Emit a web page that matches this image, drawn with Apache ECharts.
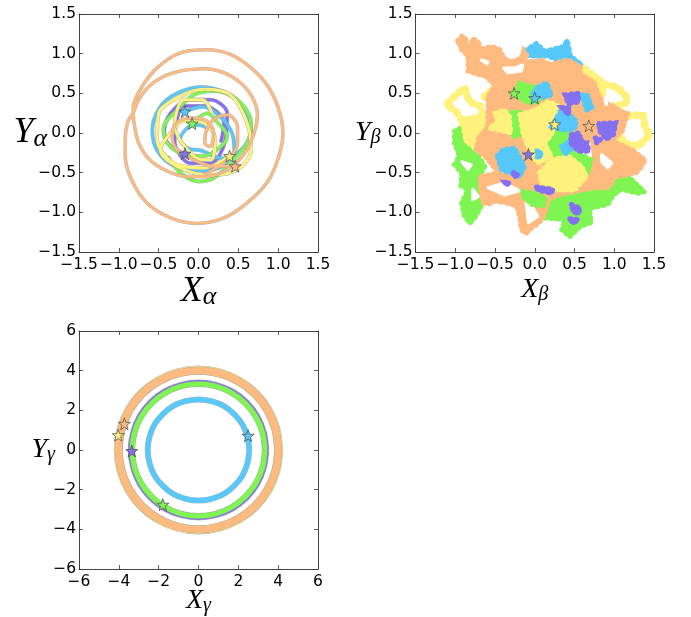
<!DOCTYPE html>
<html><head><meta charset="utf-8">
<style>html,body{margin:0;padding:0;background:#fff}#c{width:691px;height:617px}</style>
<script src="https://cdn.jsdelivr.net/npm/echarts@6/dist/echarts.min.js"></script>
</head><body><div id="c"></div>
<script>
const ORANGE='#ffba80',YELLOW='#fff27c',GREEN='#7ff552',BLUE='#56c8fa',PURPLE='#8570f2';

/* ---------- panel alpha : orbit traces ---------- */
const alphaPurple=[[-0.17,-0.26],[-0.35,-0.17],[-0.43,0],[-0.35,0.25],[-0.1,0.42],[0.15,0.42],[0.36,0.25],[0.34,-0.08],[0.15,-0.38],[-0.1,-0.38],[-0.3,-0.1],[-0.18,0.34],[0.07,0.34],[0.32,0.13],[0.28,-0.12]];
const alphaBlue=[[-0.17,0.27],[0.05,0.33],[0.28,0.2],[0.42,0.0],[0.45,-0.22],[0.3,-0.42],[0,-0.48],[-0.3,-0.42],[-0.52,-0.22],[-0.58,0.04],[-0.48,0.33],[-0.27,0.5],[0.03,0.58],[0.36,0.5],[0.58,0.3],[0.66,0.04],[0.55,-0.2],[0.3,-0.32],[0.03,-0.22],[-0.12,-0.2],[-0.23,-0.08],[-0.1,0.09],[0,0.1],[0.12,0.06]];
const alphaGreen=[[-0.08,0.12],[0.11,0.25],[0.24,0.13],[0.36,-0.04],[0.28,-0.17],[0.07,-0.29],[-0.18,-0.27],[-0.39,-0.13],[-0.44,0.06],[-0.27,0.29],[-0.06,0.48],[0.19,0.53],[0.49,0.42],[0.66,0.13],[0.61,-0.13],[0.36,-0.42],[0.19,-0.57],[0,-0.61],[-0.23,-0.5],[-0.39,-0.29]];
const alphaYellow=[[0.39,-0.29],[0.07,-0.44],[-0.31,-0.38],[-0.52,-0.08],[-0.5,0.25],[-0.23,0.46],[0.07,0.55],[0.4,0.48],[0.61,0.13],[0.66,-0.21],[0.49,-0.46],[0.15,-0.53],[-0.23,-0.44],[-0.48,-0.21],[-0.35,0],[-0.18,0.15],[0.05,0.13],[0.21,-0.08],[0.15,-0.34],[-0.05,-0.3],[-0.3,0.1],[-0.18,0.42],[0.05,0.42],[0.17,0.25]];
const alphaOrangeOuter=[[-0.82,0.25],[-0.89,0.13],[-0.92,-0.08],[-0.92,-0.29],[-0.84,-0.59],[-0.65,-0.88],[-0.35,-1.07],[-0.02,-1.14],[0.32,-1.07],[0.61,-0.88],[0.87,-0.61],[1.01,-0.29],[1.06,0],[1.01,0.29],[0.87,0.59],[0.66,0.82],[0.40,0.99],[0.11,1.05],[-0.23,1.01],[-0.52,0.82],[-0.73,0.55],[-0.82,0.32],[-0.81,0.13],[-0.75,-0.13],[-0.61,-0.34],[-0.39,-0.48],[-0.14,-0.55],[0.11,-0.55],[0.36,-0.46],[0.57,-0.27],[0.70,0],[0.74,0.23],[0.68,0.44],[0.53,0.63],[0.32,0.76],[0.07,0.81],[-0.18,0.79],[-0.44,0.71],[-0.63,0.58],[-0.75,0.42],[-0.82,0.25]];
const alphaOrangeInner=[[0.46,-0.42],[0.19,-0.42],[-0.06,-0.34],[-0.27,-0.21],[-0.33,-0.04],[-0.27,0.13],[-0.08,0.19],[0.11,0.15],[0.19,0],[0.15,-0.17],[0.08,-0.13],[0.09,0],[0.19,0.17],[0.36,0.23],[0.49,0.08],[0.49,-0.13],[0.36,-0.34],[0.07,-0.53]];
const alphaStars={purple:[-0.17,-0.26],blue:[-0.17,0.27],green:[-0.08,0.12],yellow:[0.39,-0.29],orange:[0.46,-0.42]};

/* ---------- panel beta : regions covered by each walk ---------- */
const betaYellowUnder=[
 [[-0.92,0.17],[-0.63,0.23],[-0.57,0],[-0.71,-0.19],[-0.92,-0.11]],
 [[0.59,0.86],[0.84,0.67],[0.88,0.48],[0.84,0.42],[0.71,0.55],[0.59,0.69]]];
const betaYellowTrails=[
 [[-0.92,0.17],[-0.99,0.27],[-1.11,0.36],[-1.01,0.46],[-0.88,0.57],[-0.83,0.40],[-0.69,0.34],[-0.65,0.23]],
 [[-0.63,0.46],[-0.55,0.53]],
 [[0.88,0.61],[1.03,0.58],[1.17,0.44],[1.13,0.36],[0.99,0.34]],
 [[1.09,0.17],[1.13,0.21],[1.36,0.23],[1.39,0.06],[1.45,-0.02],[1.30,-0.17],[1.13,-0.13],[1.05,0]]];
const betaGreenUnder=[
 [[-1.01,0.02],[-0.95,0.06],[-0.92,-0.13],[-0.71,-0.29],[-0.63,-0.42],[-0.69,-0.55],[-0.65,-0.88],[-0.74,-1.05],[-0.82,-1.14],[-0.89,-1.03],[-0.92,-0.88],[-0.84,-0.71],[-0.93,-0.67],[-0.92,-0.5],[-1.01,-0.40],[-0.95,-0.29],[-1.01,-0.13]],
 [[-0.13,-0.71],[0.11,-0.80],[0.34,-0.74],[0.71,-0.71],[0.97,-0.55],[1.18,-0.55],[1.38,-0.74],[1.30,-0.76],[1.09,-0.71],[0.99,-0.78],[0.92,-0.90],[0.69,-0.95],[0.71,-1.13],[0.57,-1.18],[0.44,-1.31],[0.34,-1.22],[0.38,-1.09],[0.11,-1.07],[0.15,-0.92],[0.08,-0.90],[-0.13,-0.80]]];
const betaBlueUnder=[
 [[-0.12,1.04],[0.02,1.13],[0.13,1.03],[0.36,1.09],[0.41,1.17],[0.45,0.97],[0.59,0.86],[0.46,0.84],[0.17,0.97],[-0.08,0.97]]];
const betaOrange=[
 [[-0.97,1.16],[-0.92,1.22],[-0.87,1.20],[-0.85,1.09],[-0.81,1.05],[-0.79,1.18],[-0.74,1.18],[-0.69,1.11],[-0.71,1.05],[-0.63,1.07],[-0.53,1.09],[-0.44,1.05],[-0.39,0.95],[-0.32,0.90],[-0.23,0.92],[-0.17,0.95],[-0.14,1.04],[-0.10,0.99],[-0.12,0.90],[-0.02,0.90],[0.08,0.92],[0.21,0.86],[0.32,0.90],[0.42,0.92],[0.57,0.84],[0.58,0.74],[0.66,0.69],[0.74,0.65],[0.78,0.55],[0.82,0.44],[0.90,0.38],[0.99,0.34],[1.09,0.27],[1.17,0.25],[1.13,0.13],[1.10,0.02],[1.03,-0.04],[0.99,-0.11],[1.09,-0.15],[1.22,-0.21],[1.30,-0.27],[1.39,-0.34],[1.35,-0.42],[1.28,-0.50],[1.16,-0.53],[1.01,-0.55],[0.97,-0.63],[0.92,-0.69],[0.78,-0.69],[0.63,-0.71],[0.50,-0.74],[0.38,-0.76],[0.25,-0.80],[0.17,-0.84],[0.15,-0.92],[0.13,-1.01],[0.06,-1.13],[-0.02,-1.18],[-0.11,-1.27],[-0.17,-1.22],[-0.19,-1.05],[-0.23,-0.92],[-0.36,-0.88],[-0.50,-0.86],[-0.59,-0.90],[-0.65,-0.88],[-0.68,-0.71],[-0.69,-0.55],[-0.59,-0.53],[-0.46,-0.50],[-0.63,-0.29],[-0.74,-0.21],[-0.70,-0.05],[-0.59,0.08],[-0.59,0.46],[-0.50,0.59],[-0.61,0.71],[-0.72,0.74],[-0.84,0.78],[-0.84,0.97],[-0.92,1.05]]];
const betaGaps=[
 [[-0.39,0.82],[-0.25,0.82],[-0.15,0.86],[-0.17,0.78],[-0.34,0.76]],
 [[-0.67,0.92],[-0.59,0.90],[-0.60,0.87]],
 [[0.62,-0.13],[0.68,-0.13],[0.70,-0.29],[0.63,-0.30]],
 [[0.84,-0.27],[0.97,-0.38],[0.92,-0.44],[0.84,-0.36]],
 [[-0.59,-0.69],[-0.38,-0.63],[-0.19,-0.73],[-0.38,-0.78]],
 [[-0.11,-0.88],[-0.04,-0.92],[0.04,-1.05],[-0.08,-1.13]],
 [[-0.92,-0.36],[-0.80,-0.40],[-0.84,-0.46]],
 [[-0.78,-0.71],[-0.71,-0.80],[-0.78,-0.84]],
 [[0.88,0.42],[0.93,0.50],[0.90,0.36]]];
const betaGreenOver=[
 [[-0.19,0.63],[-0.08,0.59],[0.04,0.58],[0.06,0.40],[-0.08,0.38],[-0.19,0.44],[-0.23,0.55]],
 [[-0.33,0.25],[-0.19,0.27],[-0.13,0],[-0.27,-0.05],[-0.32,0.08]],
 [[0.19,0],[0.34,0.04],[0.46,0.06],[0.42,-0.17],[0.55,-0.25],[0.71,-0.34],[0.67,-0.48],[0.55,-0.38],[0.34,-0.29],[0.21,-0.27],[0.13,-0.11]],
 [[-0.15,-0.74],[0,-0.76],[0.13,-0.82],[0.11,-0.92],[-0.04,-0.90],[-0.15,-0.80]]];
const betaYellowOver=[
 [[-0.19,0.23],[0,0.29],[0.17,0.40],[0.32,0.33],[0.29,0.17],[0.21,-0.02],[0.12,-0.13],[0.21,-0.29],[0.04,-0.38],[-0.08,-0.19],[-0.15,0],[-0.17,0.13]],
 [[0.06,-0.50],[0.21,-0.34],[0.42,-0.29],[0.59,-0.42],[0.65,-0.55],[0.50,-0.72],[0.25,-0.72],[0.08,-0.62]],
 [[-0.50,0.25],[-0.38,0.29],[-0.32,0.21],[-0.30,0],[-0.42,0.03],[-0.57,0.06],[-0.46,0.15]]];
const betaBlueOver=[
 [[0.04,0.58],[0.15,0.63],[0.21,0.48],[0.08,0.44],[-0.02,0.50]],
 [[0.32,0.27],[0.44,0.23],[0.57,0.11],[0.46,0.04],[0.34,0.04],[0.21,0.08]],
 [[0.34,-0.17],[0.46,-0.08],[0.50,-0.17],[0.38,-0.27]],
 [[-0.47,-0.29],[-0.40,-0.21],[-0.25,-0.19],[-0.13,-0.42],[-0.19,-0.55],[-0.42,-0.46]],
 [[0.59,0.48],[0.66,0.48],[0.72,0.32],[0.65,0.29]],
 [[0.03,-0.23],[0.08,-0.24],[0.07,-0.31],[0.03,-0.30]]];
const betaPurple=[
 [[0.38,0.48],[0.55,0.50],[0.55,0.39],[0.42,0.37]],
 [[0.79,0.12],[1.02,0.13],[0.99,-0.02],[0.90,-0.08],[0.82,0.02]],
 [[0.46,-0.02],[0.63,0.02],[0.68,-0.23],[0.55,-0.23],[0.45,-0.13]],
 [[0.46,-0.90],[0.57,-0.95],[0.55,-1.02],[0.48,-0.99]],
 [[0.44,-1.08],[0.55,-1.09],[0.48,-1.14]],
 [[0.02,-0.68],[0.23,-0.71],[0.21,-0.76],[0.04,-0.72]],
 [[0.34,0.32],[0.44,0.32],[0.42,0.23]],
 [[0.76,-0.06],[0.83,-0.08],[0.78,-0.13]],
 [[-0.27,-0.50],[-0.21,-0.52],[-0.25,-0.56]],
 [[-0.38,-0.62],[-0.32,-0.62],[-0.35,-0.66]]];
const betaOrangeOver=[
 [[0.57,0.23],[0.76,0.19],[0.74,0],[0.65,-0.08],[0.57,0.08]]];
const betaStars={purple:[-0.08,-0.27],blue:[0,0.44],green:[-0.26,0.50],yellow:[0.25,0.11],orange:[0.68,0.09]};

/* ---------- panel gamma : rings ---------- */
const gammaBlue=[[2.55,0],[2.46,.66],[2.21,1.28],[1.80,1.80],[1.28,2.21],[.66,2.46],[0,2.55],[-.66,2.46],[-1.28,2.21],[-1.80,1.80],[-2.21,1.28],[-2.46,.66],[-2.55,0],[-2.46,-.66],[-2.21,-1.28],[-1.80,-1.80],[-1.28,-2.21],[-.66,-2.46],[0,-2.55],[.66,-2.46],[1.28,-2.21],[1.80,-1.80],[2.21,-1.28],[2.46,-.66],[2.55,0]];
const gammaPurple=[[3.38,0],[3.26,.87],[2.93,1.69],[2.39,2.39],[1.69,2.93],[.87,3.26],[0,3.38],[-.87,3.26],[-1.69,2.93],[-2.39,2.39],[-2.93,1.69],[-3.26,.87],[-3.38,0],[-3.26,-.87],[-2.93,-1.69],[-2.39,-2.39],[-1.69,-2.93],[-.87,-3.26],[0,-3.38],[.87,-3.26],[1.69,-2.93],[2.39,-2.39],[2.93,-1.69],[3.26,-.87],[3.38,0]];
const gammaGreen=[[3.33,0],[3.22,.86],[2.88,1.67],[2.35,2.35],[1.67,2.88],[.86,3.22],[0,3.33],[-.86,3.22],[-1.67,2.88],[-2.35,2.35],[-2.88,1.67],[-3.22,.86],[-3.33,0],[-3.22,-.86],[-2.88,-1.67],[-2.35,-2.35],[-1.67,-2.88],[-.86,-3.22],[0,-3.33],[.86,-3.22],[1.67,-2.88],[2.35,-2.35],[2.88,-1.67],[3.22,-.86],[3.33,0]];
const gammaYellow=[[4.03,0],[3.89,1.04],[3.49,2.02],[2.85,2.85],[2.02,3.49],[1.04,3.89],[0,4.03],[-1.04,3.89],[-2.02,3.49],[-2.85,2.85],[-3.49,2.02],[-3.89,1.04],[-4.03,0],[-3.89,-1.04],[-3.49,-2.02],[-2.85,-2.85],[-2.02,-3.49],[-1.04,-3.89],[0,-4.03],[1.04,-3.89],[2.02,-3.49],[2.85,-2.85],[3.49,-2.02],[3.89,-1.04],[4.03,0]];
const gammaOrange=[[4.01,0],[3.87,1.04],[3.47,2.01],[2.84,2.84],[2.01,3.47],[1.04,3.87],[0,4.01],[-1.04,3.87],[-2.01,3.47],[-2.84,2.84],[-3.47,2.01],[-3.87,1.04],[-4.01,0],[-3.87,-1.04],[-3.47,-2.01],[-2.84,-2.84],[-2.01,-3.47],[-1.04,-3.87],[0,-4.01],[1.04,-3.87],[2.01,-3.47],[2.84,-2.84],[3.47,-2.01],[3.87,-1.04],[4.01,0]];
const gammaStars={purple:[-3.35,-0.05],blue:[2.49,0.72],green:[-1.79,-2.76],yellow:[-4.03,0.75],orange:[-3.72,1.32]};

const STAR='path://M0,-10L2.35,-3.24L9.51,-3.09L3.8,1.24L5.88,8.09L0,4L-5.88,8.09L-3.8,1.24L-9.51,-3.09L-2.35,-3.24Z';
const FONT='"DejaVu Sans"',TICK=15.5;
const bounds={outerBoundsMode:'none'};
const grids=[{left:79,top:14,width:239,height:238,...bounds},{left:415.5,top:14,width:238.5,height:238,...bounds},{left:79,top:331,width:239,height:238,...bounds}];
const xAxis=[],yAxis=[],series=[];
function label(sym,sub){return `{m|${sym}}{s|${sub}}`;}
function rich(size){return {m:{fontFamily:'"Liberation Serif"',fontStyle:'italic',fontSize:size,color:'#000'},
 s:{fontFamily:'"Liberation Serif"',fontStyle:'italic',fontSize:size*0.72,color:'#000',verticalAlign:'bottom',padding:[size*0.35,0,0,0]}};}
function axes(g,range,step,xn,yn,size,xgap,ygap){
 const tick={show:true,inside:true,length:4,lineStyle:{color:'#333',width:0.8}};
 const line={show:true,onZero:false,lineStyle:{color:'#444',width:1}};
 const common={min:-range,max:range,interval:step,gridIndex:g,type:'value',splitLine:{show:false},axisTick:tick,axisLine:line};
 const fmt=v=>(v<0?'\u2212':'')+Math.abs(v).toFixed(step<1?1:0);
 const lab={show:true,color:'#000',fontFamily:FONT,fontSize:TICK,showMinLabel:true,showMaxLabel:true,hideOverlap:false,formatter:fmt};
 xAxis.push({...common,position:'bottom',axisLabel:{...lab,margin:5},name:label(xn[0],xn[1]),nameLocation:'middle',nameMoveOverlap:false,nameGap:xgap,nameTextStyle:{rich:rich(size)}});
 xAxis.push({...common,position:'top',axisLabel:{show:false}});
 yAxis.push({...common,position:'left',axisLabel:{...lab,margin:3},name:label(yn[0],yn[1]),nameLocation:'middle',nameMoveOverlap:false,nameRotate:0,nameGap:ygap,nameTextStyle:{rich:rich(size)}});
 yAxis.push({...common,position:'right',axisLabel:{show:false}});
}
axes(0,1.5,0.5,['X','α'],['Y','α'],36,20,32);
axes(1,1.5,0.5,['X','β'],['Y','β'],28,23,35);
axes(2,6,2,['X','γ'],['Y','γ'],28,17,24);

function curve(g,pts,color,w,z){
 series.push({type:'line',xAxisIndex:g*2,yAxisIndex:g*2,data:pts,smooth:0.33,symbol:'none',silent:true,z:z,lineStyle:{color:'#999',width:w+1,opacity:0.7}});
 series.push({type:'line',xAxisIndex:g*2,yAxisIndex:g*2,data:pts,smooth:0.33,symbol:'none',silent:true,z:z,lineStyle:{color:color,width:w}});
}
function stars(g,o){
 [['purple',PURPLE],['blue',BLUE],['green',GREEN],['yellow',YELLOW],['orange',ORANGE]].forEach(([k,c])=>{
  series.push({type:'scatter',xAxisIndex:g*2,yAxisIndex:g*2,data:[o[k]],symbol:STAR,symbolSize:12,silent:true,z:50,
   itemStyle:{color:c,opacity:1,borderColor:'#555',borderWidth:0.8}});
 });
}
function region(polys,color,z,bumpy=true){
 series.push({type:'custom',xAxisIndex:2,yAxisIndex:2,coordinateSystem:'cartesian2d',silent:true,z:z,clip:true,
  data:polys.map((p,i)=>[p[0][0],p[0][1],i]),
  renderItem:(params,api)=>{
   const points=polys[params.dataIndex].map(q=>api.coord(q));
   const children=[{type:'polygon',shape:{points},style:{fill:color,stroke:color,lineWidth:3,lineJoin:'round'}}];
   if(bumpy)children.push({type:'polygon',shape:{points},style:{fill:'none',stroke:color,lineWidth:5,lineCap:'round',lineDash:[1,5]}});
   return {type:'group',children};
  }});
}
function trail(polys,color,z){
 series.push({type:'custom',xAxisIndex:2,yAxisIndex:2,coordinateSystem:'cartesian2d',silent:true,z:z,clip:true,
  data:polys.map((p,i)=>[p[0][0],p[0][1],i]),
  renderItem:(params,api)=>{
   const points=polys[params.dataIndex].map(q=>api.coord(q));
   return {type:'group',children:[
    {type:'polyline',shape:{points},style:{fill:'none',stroke:color,lineWidth:5,lineJoin:'round',lineCap:'round'}},
    {type:'polyline',shape:{points},style:{fill:'none',stroke:color,lineWidth:8,lineCap:'round',lineDash:[1,7]}}]};
  }});
}
curve(0,alphaPurple,PURPLE,3,2);
curve(0,alphaBlue,BLUE,3,3);
curve(0,alphaGreen,GREEN,3,4);
curve(0,alphaYellow,YELLOW,3,5);
curve(0,alphaOrangeOuter,ORANGE,2.6,6);
curve(0,alphaOrangeInner,ORANGE,2.6,6);
stars(0,alphaStars);

region(betaYellowUnder,YELLOW,2);
trail(betaYellowTrails,YELLOW,2);
region(betaGreenUnder,GREEN,3);
region(betaBlueUnder,BLUE,3);
region(betaOrange,ORANGE,4);
region(betaGaps,'#fff',5,false);
region(betaGreenOver,GREEN,6);
region(betaYellowOver,YELLOW,7);
region(betaBlueOver,BLUE,8);
region(betaPurple,PURPLE,9);
region(betaOrangeOver,ORANGE,10);
stars(1,betaStars);

curve(2,gammaPurple,PURPLE,6,2);
curve(2,gammaBlue,BLUE,5,3);
curve(2,gammaGreen,GREEN,5,4);
curve(2,gammaYellow,YELLOW,8,5);
curve(2,gammaOrange,ORANGE,7,6);
stars(2,gammaStars);

const chart=echarts.init(document.getElementById('c'),null,{renderer:'canvas'});
chart.setOption({animation:false,backgroundColor:'#fff',grid:grids,xAxis,yAxis,series});
</script></body></html>
